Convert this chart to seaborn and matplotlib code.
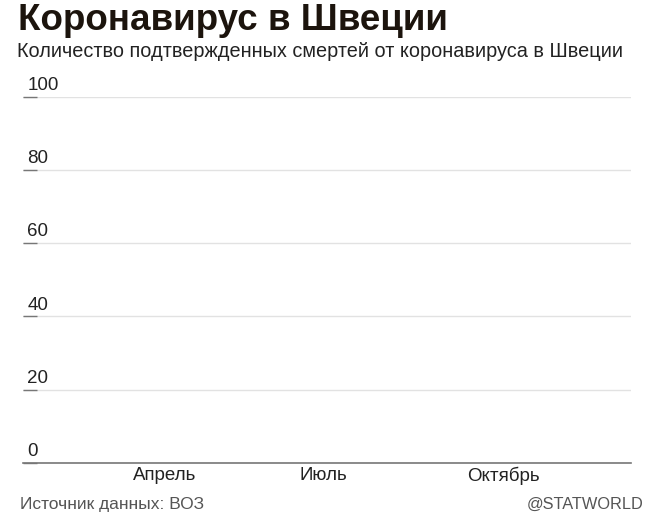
import matplotlib
matplotlib.use("Agg")
import matplotlib.pyplot as plt
import seaborn as sns
import pandas as pd

# ---- data / labels ----
title = "Коронавирус в Швеции"
subtitle = "Количество подтвержденных смертей от коронавируса в Швеции"
source = "Источник данных: ВОЗ"
credit = "@STATWORLD"
y_ticks = [0, 20, 40, 60, 80, 100]
x_tick_dates = ["2020-04-01", "2020-07-01", "2020-10-01"]
x_tick_labels = ["Апрель", "Июль", "Октябрь"]
x_range = ["2020-01-31 12:00", "2020-12-29 12:00"]
# the reference shows no plotted series
dates = []
deaths = []

sns.set_theme(style="white")
plt.rcParams["font.family"] = ["Liberation Sans", "DejaVu Sans"]

W, H = 650, 520
fig = plt.figure(figsize=(W / 100, H / 100), dpi=100)
ax = fig.add_axes([23 / W, (H - 463) / H, (631 - 23) / W, (463 - 96.7) / H])

df = pd.DataFrame({"date": pd.to_datetime(dates), "deaths": pd.Series(deaths, dtype=float)})
ax.plot(df["date"], df["deaths"], color="#c0392b", lw=2)

ax.set_ylim(0, 100)
ax.set_xlim(pd.to_datetime(x_range[0]), pd.to_datetime(x_range[1]))

# grid lines
ax.set_yticks(y_ticks)
ax.set_yticklabels([])
ax.grid(axis="y", color="#e2e2e2", lw=1)
ax.grid(axis="x", visible=False)
ax.tick_params(axis="y", direction="in", length=10, width=1, color="#777777", left=True)
for v in y_ticks:
    ax.annotate(str(v), xy=(0, v), xycoords=("axes fraction", "data"),
                xytext=(3, 5), textcoords="offset points",
                ha="left", va="baseline", fontsize=13.5, color="#222222")

ax.set_xticks(pd.to_datetime(x_tick_dates))
ax.set_xticklabels(x_tick_labels, ha="left", fontsize=13.5, color="#222222")
ax.tick_params(axis="x", length=0, pad=3)

for s in ["left", "right", "top"]:
    ax.spines[s].set_visible(False)
ax.spines["bottom"].set_color("#777777")
ax.spines["bottom"].set_linewidth(1.2)

fig.text(18 / W, 1 - 30 / H, title, fontsize=26.5, fontweight="bold",
         color="#1c140d", ha="left", va="baseline")
fig.text(17 / W, 1 - 57 / H, subtitle, fontsize=14.3, color="#222222",
         ha="left", va="baseline")
fig.text(20 / W, 1 - 509 / H, source, fontsize=12.5, color="#555555",
         ha="left", va="baseline")
fig.text(643 / W, 1 - 509 / H, credit, fontsize=11.8, color="#555555",
         ha="right", va="baseline")

fig.savefig("out.png", dpi=100, facecolor="white")
